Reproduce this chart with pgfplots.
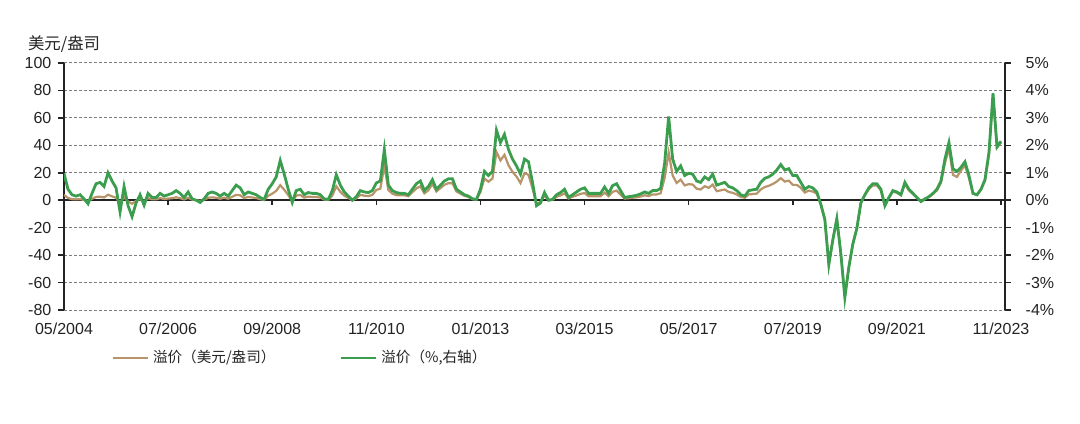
\documentclass[border=0pt]{standalone}
\usepackage{fontspec}
\setmainfont{Liberation Sans}
\newfontfamily\cjk{Noto Sans CJK SC}
\usepackage{pgfplots}
\usepackage{pgfplotstable}
\pgfplotsset{compat=1.18}

\definecolor{prem}{RGB}{58,158,78}
\definecolor{usd}{RGB}{184,148,106}
\definecolor{txt}{RGB}{35,35,35}
\definecolor{gridc}{RGB}{125,125,125}

% month index (0 = 05/2004), premium in USD/oz, premium in %
\pgfplotstableread{
m usd pct
0 3.9 0.98
1 1.6 0.40
2 0.8 0.20
3 0.6 0.15
4 0.8 0.20
5 0.2 0.05
6 -0.5 -0.13
7 1.0 0.25
8 2.4 0.60
9 2.6 0.65
10 2.0 0.50
11 4.0 1.00
12 2.8 0.70
13 1.8 0.45
14 -1.7 -0.43
15 2.2 0.50
16 -0.9 -0.20
17 -2.6 -0.60
18 -0.4 -0.10
19 0.9 0.20
20 -1.1 -0.18
21 1.5 0.25
22 0.6 0.10
23 0.6 0.10
24 1.5 0.25
25 0.9 0.15
26 1.2 0.20
27 1.5 0.25
28 2.1 0.35
29 1.5 0.25
30 0.6 0.10
31 1.8 0.30
32 0.4 0.05
33 0.0 0.00
34 -0.5 -0.08
35 0.4 0.05
36 1.8 0.25
37 2.1 0.30
38 1.8 0.25
39 1.1 0.15
40 1.8 0.25
41 1.1 0.15
42 2.5 0.35
43 3.9 0.55
44 3.6 0.45
45 1.6 0.20
46 2.4 0.30
47 2.0 0.25
48 1.6 0.20
49 0.8 0.10
50 0.2 0.03
51 3.2 0.40
52 4.8 0.60
53 6.8 0.85
54 11.0 1.45
55 7.6 0.95
56 3.8 0.40
57 -0.7 -0.08
58 3.4 0.35
59 3.8 0.40
60 1.9 0.20
61 2.6 0.28
62 2.4 0.25
63 2.4 0.25
64 1.9 0.20
65 0.5 0.05
66 0.2 0.03
67 3.4 0.35
68 10.2 0.93
69 6.1 0.55
70 3.3 0.30
71 1.7 0.15
72 0.0 0.00
73 1.4 0.13
74 3.9 0.35
75 3.3 0.30
76 3.0 0.28
77 3.9 0.35
78 7.5 0.63
79 8.4 0.70
80 25.2 1.85
81 7.5 0.55
82 4.8 0.35
83 3.7 0.28
84 3.6 0.25
85 3.6 0.25
86 2.9 0.20
87 5.8 0.40
88 8.6 0.60
89 10.1 0.70
90 5.0 0.35
91 7.2 0.50
92 12.0 0.75
93 6.4 0.40
94 8.8 0.55
95 11.2 0.70
96 12.4 0.78
97 12.4 0.78
98 6.4 0.40
99 4.8 0.30
100 3.2 0.20
101 2.4 0.15
102 0.8 0.05
103 0.4 0.03
104 6.0 0.40
105 15.8 1.05
106 13.5 0.90
107 15.8 1.05
108 35.2 2.55
109 29.0 2.10
110 33.1 2.40
111 25.5 1.85
112 20.7 1.50
113 17.3 1.25
114 12.5 0.95
115 19.8 1.50
116 18.5 1.40
117 8.6 0.65
118 -2.6 -0.20
119 -1.3 -0.10
120 3.5 0.28
121 0.0 0.00
122 0.3 0.03
123 2.5 0.20
124 3.5 0.28
125 5.0 0.40
126 1.3 0.10
127 2.5 0.20
128 3.5 0.30
129 4.6 0.40
130 5.2 0.45
131 2.9 0.25
132 2.9 0.25
133 2.9 0.25
134 2.9 0.25
135 5.5 0.48
136 2.9 0.25
137 6.1 0.53
138 7.0 0.60
139 4.1 0.35
140 1.2 0.10
141 1.5 0.13
142 1.8 0.15
143 2.1 0.18
144 2.7 0.23
145 3.6 0.30
146 3.0 0.25
147 4.2 0.35
148 4.2 0.35
149 5.1 0.43
150 16.2 1.35
151 34.8 3.05
152 18.0 1.50
153 12.6 1.05
154 15.0 1.25
155 10.8 0.90
156 11.7 0.98
157 11.4 0.95
158 8.4 0.70
159 7.8 0.65
160 10.2 0.85
161 9.0 0.75
162 11.4 0.95
163 6.6 0.55
164 7.2 0.60
165 7.8 0.65
166 6.0 0.50
167 5.4 0.45
168 4.2 0.35
169 2.4 0.20
170 1.8 0.15
171 4.2 0.35
172 4.5 0.38
173 4.8 0.40
174 7.8 0.65
175 9.6 0.80
176 10.5 0.85
177 11.8 0.95
178 13.6 1.10
179 16.1 1.30
180 13.6 1.10
181 14.3 1.15
182 11.2 0.90
183 11.2 0.90
184 9.1 0.65
185 5.6 0.40
186 7.0 0.50
187 6.3 0.45
188 4.8 0.30
189 -2.8 -0.15
190 -13.5 -0.70
191 -46.0 -2.35
192 -28.5 -1.45
193 -13.2 -0.68
194 -38.2 -1.95
195 -69.6 -3.55
196 -48.0 -2.45
197 -31.4 -1.60
198 -20.1 -1.03
199 -2.0 -0.10
200 3.6 0.20
201 8.1 0.45
202 10.8 0.60
203 10.8 0.60
204 7.2 0.40
205 -3.6 -0.20
206 1.8 0.10
207 6.3 0.35
208 5.4 0.30
209 3.6 0.20
210 11.7 0.65
211 7.2 0.40
212 4.5 0.25
213 1.8 0.10
214 -0.9 -0.05
215 0.9 0.05
216 2.3 0.13
217 4.5 0.25
218 7.2 0.40
219 12.6 0.70
220 27.0 1.50
221 37.8 2.10
222 18.5 1.15
223 17.0 1.05
224 21.6 1.20
225 25.5 1.40
226 16.2 0.90
227 4.8 0.25
228 3.8 0.20
229 7.6 0.40
230 14.3 0.75
231 33.3 1.75
232 76.4 3.90
233 38.2 1.95
234 42.1 2.15
}\premium

\begin{document}
\begin{tikzpicture}
\begin{axis}[
  name=usdax,
  at={(0,0)}, anchor=south west,
  scale only axis, width=470.5pt, height=123.5pt,
  xmin=0, xmax=235, ymin=-80, ymax=100,
  axis y line*=left, axis x line*=bottom,
  x axis line style={draw=none},
  y axis line style={txt, line width=1pt},
  xtick={0,26,...,234},
  xticklabels={05/2004,07/2006,09/2008,11/2010,01/2013,03/2015,05/2017,07/2019,09/2021,11/2023},
  xtick style={draw=none},
  ytick={-80,-60,...,100},
  ytick style={txt, line width=0.8pt},
  tick align=outside, major tick length=2.8pt,
  ymajorgrids,
  grid style={gridc, line width=0.5pt, dash pattern=on 1.5pt off 1pt},
  extra y ticks={0}, extra y tick labels={},
  extra y tick style={grid=major, grid style={solid, txt, line width=0.9pt}, major tick length=0pt},
  tick label style={font=\fontsize{8}{9.6}\selectfont, text=txt},
  /pgf/number format/assume math mode=true,
  legend columns=2,
  legend style={draw=none, fill=none, at={(axis description cs:0.044,-0.194)}, anchor=west,
    font=\cjk\fontsize{7.3}{8.8}\selectfont, text=txt,
    /tikz/every even column/.append style={column sep=30pt}},
  legend image code/.code={\draw[#1] (0pt,0pt) -- (17.5pt,0pt);},
]
\addplot[usd, line width=1.1pt] table[x=m, y=usd] {\premium};
\addlegendentry{溢价（美元/盎司）}
\addlegendimage{prem, line width=1.4pt}
\addlegendentry{溢价（\%,右轴）}
\pgfplotsinvokeforeach{26,52,78,104,130,156,182,208,234}{
  \draw[txt, line width=0.8pt] (axis cs:#1,0) -- ++(0pt,-2.5pt);
}
\end{axis}
\begin{axis}[
  at={(0,0)}, anchor=south west,
  scale only axis, width=470.5pt, height=123.5pt,
  xmin=0, xmax=235, ymin=-4, ymax=5,
  axis y line*=right, axis x line=none,
  y axis line style={txt, line width=1pt},
  ytick={-4,-3,...,5},
  ytick style={txt, line width=0.8pt},
  tick align=outside, major tick length=2.8pt,
  yticklabel={\pgfmathprintnumber{\tick}\%},
  yticklabel style={xshift=4pt},
  tick label style={font=\fontsize{8}{9.6}\selectfont, text=txt},
  /pgf/number format/assume math mode=true,
]
\addplot[prem, line width=1.4pt] table[x=m, y=pct] {\premium};
\end{axis}
\node[anchor=west, font=\cjk\fontsize{8.2}{9.8}\selectfont, text=txt]
  at ([xshift=-21.5pt, yshift=9.5pt]usdax.north west) {美元/盎司};
\path[use as bounding box] (-32pt,-56.5pt) rectangle (508pt,155pt);
\end{tikzpicture}
\end{document}
